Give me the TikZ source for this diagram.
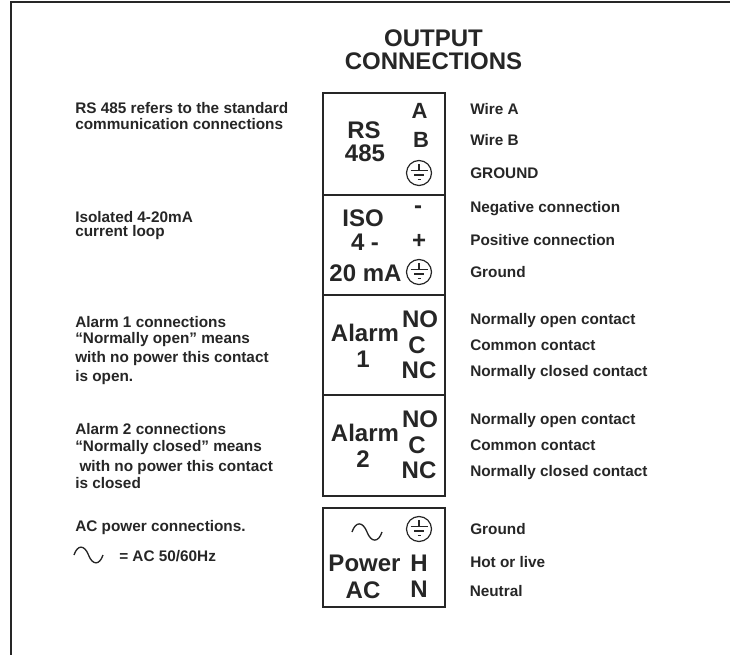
\documentclass[tikz,border=0pt]{standalone}
\usepackage{fontspec}
\setmainfont{Liberation Sans}
\tikzset{
  small/.style={font=\fontsize{11.5}{13}\selectfont\bfseries,anchor=base west,inner sep=0pt,align=left,text=black!85},
  big/.style={font=\fontsize{18}{20}\selectfont\bfseries,inner sep=0pt,text=black!85,anchor=base},
  mid/.style={big,font=\fontsize{16.5}{18}\selectfont\bfseries},
  frameline/.style={draw=black!85,line width=1.5pt},
  boxline/.style={draw=black!85,line width=1.5pt},
  symline/.style={draw=black!85,line width=0.9pt}
}
\newcommand{\gndsym}[2]{%
  \draw[symline] (#1,#2) circle[radius=12.5];
  \draw[symline] (#1,#2-9) -- (#1,#2-2.5);
  \draw[symline] (#1-8.5,#2-2.5) -- (#1+8.5,#2-2.5);
  \draw[symline] (#1-5,#2+2) -- (#1+5,#2+2);
  \draw[symline] (#1-1.5,#2+6.5) -- (#1+1.5,#2+6.5);
}
\newcommand{\wavesym}[3]{%
  \draw[symline,line width=1pt] (#1,#2) .. controls (#1+#3*.12,#2-#3*.36) and (#1+#3*.36,#2-#3*.36) .. (#1+#3*.5,#2)
   .. controls (#1+#3*.64,#2+#3*.36) and (#1+#3*.88,#2+#3*.36) .. (#1+#3,#2);
}
\begin{document}
\begin{tikzpicture}[x=0.75pt,y=-0.75pt]
\useasboundingbox (0,0) rectangle (730,655);
\coordinate (fb) at (10.5,655);
\coordinate (fc) at (10.5,2.5);
\coordinate (fr) at (730,2.5);
\draw[frameline] (fb) -- (fc) -- (fr);

\node[big] (ttl1) at (433.5,47) {OUTPUT};
\node[big] (ttl2) at (433.5,70) {CONNECTIONS};

% boxes
\draw[boxline] (323,93) rectangle (444.5,495.5);
\draw[boxline] (323,195) -- (444.5,195);
\draw[boxline] (323,295) -- (444.5,295);
\draw[boxline] (323,395) -- (444.5,395);
\draw[boxline] (323,507.5) rectangle (444.5,607);

\node[big] (rs) at (364,139) {RS};
\node[big] (n485) at (365,162) {485};
\node[mid] (A) at (419.5,119) {A};
\node[mid] (B) at (421,148) {B};
\gndsym{419}{173}
\node[big] (minus) at (418,214) {-};
\node[big] (iso) at (363,227) {ISO};
\node[big] (four) at (365,251) {4 -};
\node[big] (plus) at (419,249) {+};
\node[big] (ma) at (365.5,282) {20 mA};
\gndsym{419}{272}

\node[big] (al1) at (365,341) {Alarm};
\node[big] (al1n) at (363,367) {1};
\node[big] (no1) at (420,327) {NO};
\node[big] (c1) at (417,353) {C};
\node[big] (nc1) at (419,378) {NC};

\node[big] (al2) at (365,441) {Alarm};
\node[big] (al2n) at (363,467) {2};
\node[big] (no2) at (420,427) {NO};
\node[big] (c2) at (417,453) {C};
\node[big] (nc2) at (419,478) {NC};

\wavesym{352}{532}{30}
\gndsym{419}{529}
\node[big] (pw) at (364.5,571) {Power};
\node[big] (ac) at (363,598) {AC};
\node[big] (H) at (419,571) {H};
\node[big] (N) at (419,597) {N};

% right labels
\node[small] (r1) at (470,115) {Wire A};
\node[small] (r2) at (470,146) {Wire B};
\node[small] (r3) at (470,179) {GROUND};
\node[small] (r4) at (470,213) {Negative connection};
\node[small] (r5) at (470,246) {Positive connection};
\node[small] (r6) at (470,278) {Ground};
\node[small] (r7) at (470,325) {Normally open contact};
\node[small] (r8) at (470,350.5) {Common contact};
\node[small] (r9) at (470,376.5) {Normally closed contact};
\node[small] (r10) at (470,424.5) {Normally open contact};
\node[small] (r11) at (470,450.5) {Common contact};
\node[small] (r12) at (470,476.5) {Normally closed contact};
\node[small] (r13) at (470,534) {Ground};
\node[small] (r14) at (470,567) {Hot or live};
\node[small] (r15) at (469.5,596) {Neutral};

% left labels
\node[small] (l1) at (75,114) {RS 485 refers to the standard};
\node[small] (l1b) at (75,130) {communication connections};
\node[small] (l2) at (75,223) {Isolated 4-20mA};
\node[small] (l2b) at (75,237) {current loop};
\node[small] (l3) at (75,327) {Alarm 1 connections};
\node[small] (l3b) at (75,343) {“Normally open” means};
\node[small] (l3c) at (75,362) {with no power this contact};
\node[small] (l3d) at (75,381) {is open.};
\node[small] (l4) at (75,434) {Alarm 2 connections};
\node[small] (l4b) at (75,451) {“Normally closed” means};
\node[small] (l4c) at (75,471) {\ with no power this contact};
\node[small] (l4d) at (75,488) {is closed};
\node[small] (l5) at (75,531) {AC power connections.};
\wavesym{74}{555}{29}
\node[small] (l6) at (119,561.5) {= AC 50/60Hz};
\end{tikzpicture}
\end{document}
